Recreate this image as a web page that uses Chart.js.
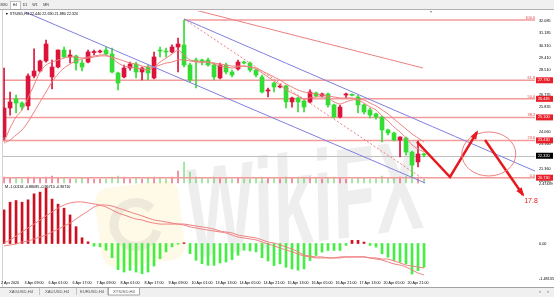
<!DOCTYPE html>
<html lang="en">
<head>
<meta charset="UTF-8">
<title>XTIUSD,H4</title>
<script src="https://cdn.jsdelivr.net/npm/chart.js"></script>
<style>
    body { margin: 0; background: #fff; }
    #wrap { position: absolute; left: 0; top: 0; width: 554px; height: 297px; }
</style>
</head>
<body>
<div id="wrap"><canvas id="chart"></canvas></div>
<script>
// candles (H4), red = up, green = down
const opens  = [23.68,25.78,26.43,26.14,25.93,28.10,28.46,29.19,28.03,28.75,29.98,29.48,29.55,29.04,29.11,29.80,29.84,29.98,29.69,28.32,28.03,28.68,28.97,28.39,28.75,27.96,29.98,29.91,29.84,30.20,30.35,28.90,29.26,29.26,29.26,28.90,27.96,28.90,28.39,28.61,29.11,29.04,28.53,28.03,27.01,27.59,27.30,27.38,26.22,26.51,26.29,26.22,26.87,26.65,26.80,26.00,25.13,26.72,26.76,26.58,26.00,25.64,25.35,25.13,24.19,23.97,23.46,23.61,22.59,21.87,22.45];
const highs  = [28.68,26.94,26.72,26.22,28.25,30.06,29.26,30.71,29.26,30.00,30.20,29.98,29.62,29.26,29.98,29.98,29.98,30.20,30.13,28.39,28.90,29.11,29.11,28.75,28.90,29.84,30.20,30.13,30.35,30.85,32.16,29.04,29.40,29.33,29.40,29.04,29.04,29.04,28.53,29.26,29.19,29.11,28.61,28.17,27.23,27.66,27.52,27.45,26.58,26.58,26.36,27.09,26.94,26.87,26.87,26.07,26.00,26.87,26.80,26.72,26.07,25.78,25.42,25.20,24.26,24.04,23.70,23.68,22.66,23.39,22.52];
const lows   = [23.46,25.27,25.42,25.64,25.64,27.96,28.39,29.11,27.16,28.68,29.45,29.04,28.53,28.46,29.04,29.62,29.77,29.62,28.32,27.09,27.96,28.53,27.96,27.81,27.81,27.88,29.48,29.48,29.77,28.39,28.75,27.66,27.23,28.90,28.82,27.81,27.88,28.25,28.03,28.53,28.97,28.39,28.03,26.87,26.58,26.94,27.23,25.78,25.85,25.49,25.49,26.14,26.58,26.58,25.85,25.06,25.06,26.51,26.65,25.42,25.35,25.06,24.98,23.32,23.83,23.39,22.23,22.38,20.85,21.51,22.23];
const closes = [25.78,26.22,26.14,25.85,28.10,28.46,29.19,30.42,28.75,29.98,29.48,29.62,29.04,28.75,29.84,29.86,29.91,29.69,28.39,27.59,28.68,28.97,28.39,28.68,28.32,29.48,29.91,29.84,30.20,30.42,28.90,27.81,29.19,29.11,28.90,28.03,28.90,28.39,28.17,29.11,29.04,28.53,28.17,26.94,27.09,27.30,27.38,26.22,26.51,26.22,25.85,26.94,26.65,26.80,26.00,25.13,25.85,26.80,26.70,26.00,25.49,25.27,25.13,24.19,23.97,23.46,23.68,22.59,21.65,22.45,22.38];
// tick volume strip at the foot of the price window (relative heights)
const volumes = [6,5,5,4,6,6,5,6,7,5,5,4,4,5,5,4,4,4,6,7,6,4,5,4,5,6,5,4,6,12,21,11,6,5,4,6,5,5,4,5,4,4,5,6,5,5,4,6,5,6,5,6,5,4,5,6,5,4,4,5,5,4,5,7,5,5,6,7,8,6,4];

// moving averages
const maFast = [23.32,24.33,25.13,25.64,26.51,27.45,28.39,28.90,29.11,29.26,29.40,29.48,29.48,29.40,29.48,29.55,29.62,29.62,29.40,29.04,28.82,28.75,28.68,28.61,28.53,28.75,29.11,29.40,29.69,29.98,29.62,29.26,29.19,29.11,29.11,28.97,28.82,28.75,28.68,28.75,28.82,28.75,28.61,28.32,28.03,27.74,27.45,27.09,26.87,26.65,26.43,26.51,26.58,26.58,26.51,26.22,26.07,26.22,26.36,26.36,26.14,25.85,25.64,25.20,24.84,24.40,24.04,23.61,23.10,22.81,22.59];
const maSlow = [23.24,23.46,23.82,24.19,24.77,25.49,26.22,26.94,27.67,28.25,28.68,28.97,29.19,29.33,29.40,29.48,29.55,29.55,29.48,29.33,29.19,29.04,28.97,28.82,28.75,28.75,28.90,29.04,29.11,29.26,29.26,29.19,29.11,29.11,29.11,29.04,28.97,28.90,28.82,28.82,28.82,28.75,28.68,28.46,28.25,28.03,27.81,27.52,27.30,27.09,26.94,26.87,26.80,26.72,26.65,26.58,26.51,26.51,26.51,26.43,26.36,26.14,25.93,25.64,25.35,24.98,24.62,24.26,23.90,23.61,23.32];

// MACD panel
const macdHist = [1.40,1.72,1.79,1.72,1.82,2.07,2.14,2.31,1.85,1.64,1.47,1.19,0.70,0.24,0.07,-0.11,-0.14,-0.28,-0.59,-1.09,-1.19,-1.12,-1.19,-1.26,-1.19,-0.94,-0.63,-0.35,-0.14,-0.03,0.03,-0.42,-0.70,-0.84,-0.91,-0.91,-0.81,-0.77,-0.67,-0.49,-0.28,-0.31,-0.35,-0.59,-0.73,-0.92,-0.85,-0.99,-1.06,-1.11,-1.06,-0.71,-0.50,-0.36,-0.29,-0.29,-0.29,-0.08,0.13,0.13,0.06,-0.08,-0.15,-0.43,-0.57,-0.71,-0.78,-0.85,-1.27,-1.13,-0.99];
const macdFast = [0.02,0.15,0.31,0.48,0.65,0.81,0.98,1.15,1.31,1.48,1.60,1.69,1.73,1.73,1.69,1.65,1.60,1.52,1.40,1.27,1.19,1.10,1.02,0.98,0.90,0.85,0.81,0.81,0.81,0.81,0.81,0.77,0.73,0.69,0.65,0.60,0.52,0.48,0.44,0.35,0.31,0.27,0.23,0.15,0.06,0.02,-0.06,-0.15,-0.23,-0.35,-0.48,-0.52,-0.56,-0.56,-0.60,-0.60,-0.60,-0.56,-0.56,-0.56,-0.56,-0.60,-0.65,-0.69,-0.77,-0.85,-0.90,-0.98,-1.10,-1.23,-1.31];
const macdSlow = [-0.10,-0.06,-0.02,0.06,0.10,0.19,0.27,0.35,0.48,0.60,0.73,0.85,1.02,1.19,1.35,1.52,1.60,1.60,1.56,1.48,1.40,1.31,1.23,1.15,1.06,0.98,0.94,0.90,0.85,0.81,0.77,0.69,0.65,0.60,0.56,0.52,0.48,0.44,0.35,0.27,0.23,0.19,0.15,0.06,-0.02,-0.10,-0.19,-0.27,-0.35,-0.44,-0.52,-0.56,-0.60,-0.60,-0.60,-0.60,-0.56,-0.56,-0.56,-0.56,-0.56,-0.60,-0.60,-0.65,-0.65,-0.73,-0.81,-0.90,-0.94,-0.98,-1.02];

// axes
const xTickIndex = [1,5,9,13,17,21,25,29,33,37,41,45,49,53,57,61,65,69];
const xTickLabels = ['2 Apr 2020','3 Apr 09:00','6 Apr 01:00','6 Apr 17:00','7 Apr 09:00','8 Apr 01:00','8 Apr 17:00','9 Apr 09:00','10 Apr 01:00','13 Apr 13:00','14 Apr 05:00','14 Apr 21:00','15 Apr 13:00','16 Apr 05:00','16 Apr 21:00','17 Apr 13:00','20 Apr 05:00','20 Apr 21:00'];
const priceTicks = [32.085,31.185,30.310,29.410,28.510,27.635,26.735,25.835,24.960,24.060,23.160,22.260,21.360,20.485];
const macdTicks = [2.47439, 0, -1.48135];
const macdTickText = ['2.47439', '0.00', '-1.48135'];

// fibonacci retracement
const fibLevels = ['100.0', '61.8', '50.0', '38.2', '23.6', '0.0'];
const fibPrices = [32.160, 27.790, 26.445, 25.100, 23.430, 20.730];
const fibStart  = [30, -0.17, -0.17, -0.17, -0.17, -0.17];
const lastPrice = 22.320;

// hand drawn objects (bar index, price)
const lowerChannelX = [3.5, 70.17],  lowerChannelY = [32.74, 20.35];
const upperChannelX = [30, 88.5],    upperChannelY = [32.23, 21.21];
const dottedX = [30, 70.17],         dottedY = [32.23, 20.56];
const topLineX = [31.83, 69.83],     topLineY = [32.88, 28.68];
const arrow1X = [68.83, 74.33, 78.83], arrow1Y = [23.32, 20.78, 24.04];
const arrow2X = [80.17, 86.5],       arrow2Y = [23.46, 19.48];
const targetText = '17.8';

const RED = '#dc143c', GREEN = '#33dd33', PINK = '#ef7f7f', BLUE = '#7f7fe0';
const pts = (xs, ys) => xs.map((x, i) => ({x: x, y: ys[i]}));
const idx = closes.map((c, i) => i);
const upColor = (a, b) => idx.map(i => closes[i] >= opens[i] ? a : b);

const datasets = [
    { type: 'bar', label: 'wick', data: idx.map(i => ({x: i, y: [lows[i], highs[i]]})),
      backgroundColor: upColor(RED, GREEN),
      barThickness: 1, grouped: false, yAxisID: 'y', order: 5 },
    { type: 'bar', label: 'body', data: idx.map(i => ({x: i, y: [opens[i], closes[i]]})),
      backgroundColor: upColor(RED, GREEN),
      barThickness: 4, minBarLength: 1, grouped: false, yAxisID: 'y', order: 4 },
    { type: 'bar', label: 'volume', data: idx.map(i => ({x: i, y: volumes[i]})),
      backgroundColor: upColor('rgba(220,20,60,0.55)', 'rgba(60,200,60,0.55)'),
      barThickness: 1, grouped: false, yAxisID: 'v', order: 8 },
    { type: 'line', data: idx.map(i => ({x: i, y: maFast[i]})), borderColor: PINK, borderWidth: 1, fill: false, yAxisID: 'y', order: 3 },
    { type: 'line', data: idx.map(i => ({x: i, y: maSlow[i]})), borderColor: PINK, borderWidth: 1, fill: false, yAxisID: 'y', order: 3 },
    { type: 'bar', data: idx.map(i => ({x: i, y: macdHist[i]})),
      backgroundColor: macdHist.map(v => v >= 0 ? '#cc1020' : '#44ee44'),
      barThickness: 2, grouped: false, yAxisID: 'm', order: 6 },
    { type: 'line', data: idx.map(i => ({x: i, y: macdFast[i]})), borderColor: PINK, borderWidth: 1, fill: false, yAxisID: 'm', order: 2 },
    { type: 'line', data: idx.map(i => ({x: i, y: macdSlow[i]})), borderColor: PINK, borderWidth: 1, fill: false, yAxisID: 'm', order: 2 },
    { type: 'line', data: pts(lowerChannelX, lowerChannelY), borderColor: BLUE, borderWidth: 1, fill: false, yAxisID: 'y', order: 1 },
    { type: 'line', data: pts(upperChannelX, upperChannelY), borderColor: BLUE, borderWidth: 1, fill: false, yAxisID: 'y', order: 1 },
    { type: 'line', data: pts(dottedX, dottedY), borderColor: PINK, borderWidth: 1, borderDash: [2, 2], fill: false, yAxisID: 'y', order: 1 },
    { type: 'line', data: pts(topLineX, topLineY), borderColor: PINK, borderWidth: 1, fill: false, yAxisID: 'y', order: 1 },
    { type: 'line', data: pts(arrow1X, arrow1Y), borderColor: '#e8191e', borderWidth: 2.5, fill: false, tension: 0, yAxisID: 'y', order: 0, clip: false },
    { type: 'line', data: pts(arrow2X, arrow2Y), borderColor: '#e8191e', borderWidth: 2.5, fill: false, tension: 0, yAxisID: 'y', order: 0, clip: false }
];
fibPrices.forEach((p, k) => {
    datasets.push({ type: 'line', data: [{x: fibStart[k], y: p}, {x: 88.5, y: p}],
        borderColor: '#f39a9a', borderWidth: 1.5, fill: false, yAxisID: 'y', order: 7 });
});

function arrowHead(ctx, x1, y1, x2, y2) {
    const a = Math.atan2(y2 - y1, x2 - x1), len = 7, w = 3.2;
    ctx.beginPath();
    ctx.moveTo(x2 + Math.cos(a) * 2, y2 + Math.sin(a) * 2);
    ctx.lineTo(x2 - Math.cos(a) * len - Math.sin(a) * w, y2 - Math.sin(a) * len + Math.cos(a) * w);
    ctx.lineTo(x2 - Math.cos(a) * len + Math.sin(a) * w, y2 - Math.sin(a) * len - Math.cos(a) * w);
    ctx.closePath();
    ctx.fill();
}

const decor = {
    id: 'decor',
    beforeDraw(chart) {
        const ctx = chart.ctx;
        ctx.save();
        ctx.fillStyle = '#fff';
        ctx.fillRect(0, 0, chart.width, chart.height);
        // top timeframe bar
        ctx.fillStyle = '#f0f0f0';
        ctx.fillRect(0, 0, chart.width, 9);
        ctx.fillStyle = '#b0b0b0';
        ctx.fillRect(0, 9, chart.width, 1);
        ctx.fillStyle = '#fff';
        ctx.fillRect(10, 1, 10, 8);
        ctx.strokeStyle = '#a0a0a0';
        ctx.lineWidth = 0.6;
        ctx.strokeRect(10.5, 1.5, 10, 8);
        ctx.font = '3.6px "Liberation Sans"';
        ctx.fillStyle = '#333';
        ctx.textAlign = 'center';
        ctx.textBaseline = 'middle';
        [['M30', 4], ['H4', 15], ['D1', 25], ['W1', 35], ['MN', 46]].forEach(t => ctx.fillText(t[0], t[1], 5.3));
        // bottom symbol tabs
        ctx.fillStyle = '#f0f0f0';
        ctx.fillRect(0, 287, chart.width, 10);
        ctx.fillStyle = '#909090';
        ctx.fillRect(0, 287, chart.width, 0.8);
        ctx.fillStyle = '#fff';
        ctx.fillRect(108, 287, 32, 8);
        ctx.strokeStyle = '#707070';
        ctx.strokeRect(108.5, 287.5, 31, 7.5);
        ctx.fillStyle = '#b0b0b0';
        [39, 76, 107].forEach(x => ctx.fillRect(x, 288, 0.7, 7));
        ctx.font = '4.2px "Liberation Sans"';
        ctx.fillStyle = '#555';
        [['XAGUSD,H4', 21], ['XAUUSD,H4', 57], ['EURUSD,H4', 92], ['XTIUSD,H4', 124]].forEach(t => ctx.fillText(t[0], t[1], 291.5));
        ctx.fillText('<', 540, 292);
        ctx.fillText('>', 548, 292);
        // left edge
        ctx.fillStyle = '#c8c8c8';
        ctx.fillRect(2, 10, 0.8, 277);
        ctx.restore();
    },
    beforeDatasetsDraw(chart) {
        const ctx = chart.ctx, ys = chart.scales.y, a = chart.chartArea;
        ctx.save();
        // watermark logo
        ctx.translate(140, 224);
        ctx.rotate(-0.12);
        ctx.fillStyle = 'rgba(255,228,150,0.22)';
        ctx.beginPath();
        ctx.roundRect(-42, -40, 84, 80, 14);
        ctx.fill();
        ctx.strokeStyle = 'rgba(150,150,150,0.16)';
        ctx.lineWidth = 9;
        ctx.beginPath();
        ctx.arc(-4, 0, 22, 0.4, 5.6);
        ctx.stroke();
        ctx.restore();
        // watermark text
        ctx.save();
        ctx.translate(192, 258);
        ctx.rotate(-0.13);
        ctx.scale(0.56, 1);
        ctx.font = 'italic bold 128px "Liberation Sans"';
        ctx.fillStyle = 'rgba(150,150,150,0.16)';
        ctx.textBaseline = 'alphabetic';
        ctx.fillText('WikiFX', 0, 0);
        ctx.restore();
        // last price line
        ctx.save();
        const yl = ys.getPixelForValue(lastPrice);
        ctx.fillStyle = '#c0c0c0';
        ctx.fillRect(a.left, Math.round(yl), a.right - a.left, 1);
        ctx.restore();
    },
    afterDatasetsDraw(chart) {
        const ctx = chart.ctx, xs = chart.scales.x, ys = chart.scales.y, ms = chart.scales.m;
        ctx.save();
        // target ellipse
        ctx.strokeStyle = PINK;
        ctx.lineWidth = 1;
        ctx.beginPath();
        ctx.ellipse(xs.getPixelForValue(80.8), ys.getPixelForValue(22.45), 27, 22, 0, 0, Math.PI * 2);
        ctx.stroke();
        // arrow heads
        ctx.fillStyle = '#e8191e';
        const px = (X, Y, k) => [xs.getPixelForValue(X[k]), ys.getPixelForValue(Y[k])];
        arrowHead(ctx, ...px(arrow1X, arrow1Y, 1), ...px(arrow1X, arrow1Y, 2));
        arrowHead(ctx, ...px(arrow2X, arrow2Y, 0), ...px(arrow2X, arrow2Y, 1));
        ctx.font = '7px "Liberation Sans"';
        ctx.textAlign = 'center';
        ctx.textBaseline = 'middle';
        ctx.fillText(targetText, 531, ys.getPixelForValue(arrow2Y[1]) + 6);
        // headers
        ctx.fillStyle = '#000';
        ctx.textAlign = 'left';
        ctx.font = '3.7px "Liberation Sans"';
        ctx.fillText('\u25BC XTIUSD,H4 22.440 22.690 21.880 22.320', 5, 14);
        ctx.fillText('M -1.00134 -0.88085 -0.96710 -0.96710', 5, 187);
        ctx.fillStyle = '#888';
        ctx.fillText('\u25BE', 430, 12);
        // right price scale
        ctx.fillStyle = '#000';
        ctx.font = '3.8px "Liberation Sans"';
        priceTicks.forEach(v => ctx.fillText(v.toFixed(3), 539, ys.getPixelForValue(v)));
        macdTicks.forEach((v, k) => ctx.fillText(macdTickText[k], 539, ms.getPixelForValue(v)));
        // fib labels and price boxes
        fibPrices.forEach((p, k) => {
            const y = ys.getPixelForValue(p);
            ctx.fillStyle = '#e04040';
            ctx.textAlign = 'right';
            ctx.fillText(fibLevels[k], 535, y - 2);
            if (k > 0) {
                ctx.fillStyle = '#e8202a';
                ctx.fillRect(536, y - 3, 17, 6);
                ctx.fillStyle = '#fff';
                ctx.textAlign = 'left';
                ctx.fillText(p.toFixed(3), 538, y);
            }
        });
        const yl = ys.getPixelForValue(lastPrice);
        ctx.fillStyle = '#000';
        ctx.fillRect(536, yl - 3, 17, 6);
        ctx.fillStyle = '#fff';
        ctx.textAlign = 'left';
        ctx.fillText(lastPrice.toFixed(3), 538, yl);
        ctx.restore();
    }
};

new Chart(document.getElementById('chart'), {
    type: 'bar',
    data: { datasets: datasets },
    options: {
        responsive: true,
        maintainAspectRatio: false,
        animation: false,
        events: [],
        layout: { padding: { left: 3, right: 19, top: 11, bottom: 10 } },
        elements: { point: { radius: 0 }, line: { tension: 0.25 } },
        plugins: { legend: { display: false }, tooltip: { enabled: false } },
        scales: {
            x: {
                type: 'linear', min: -0.17, max: 88.5, offset: false,
                grid: { display: false, drawTicks: false, offset: false },
                border: { display: false },
                afterBuildTicks: s => { s.ticks = xTickIndex.map(v => ({ value: v })); },
                afterFit: s => { s.height = 7; },
                ticks: { autoSkip: false, maxRotation: 0, padding: 1, color: '#000',
                    font: { size: 3.7, family: 'Liberation Sans' },
                    callback: (v, i) => xTickLabels[i] }
            },
            y: { type: 'linear', display: false, min: 13.317, max: 32.81 },
            m: { type: 'linear', display: false, min: -1.521, max: 9.688 },
            v: { type: 'linear', display: false, min: -97, max: 172 }
        }
    },
    plugins: [decor]
});
</script>
</body>
</html>
